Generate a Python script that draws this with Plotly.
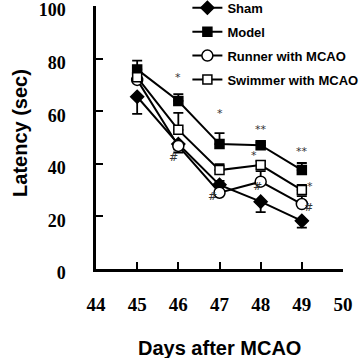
import plotly.graph_objects as go

days = [45, 46, 47, 48, 49]

sham = [65.5, 47.5, 32.0, 25.6, 18.3]
sham_up = [0, 0, 1.5, 0, 0]
sham_dn = [6.5, 2.0, 0, 4.0, 2.6]

model = [75.9, 63.9, 47.5, 47.1, 37.6]
model_up = [3.3, 2.6, 4.2, 1.0, 2.7]
model_dn = [0, 0, 0, 0, 0]

runner = [71.9, 46.8, 29.0, 33.2, 24.7]
runner_up = [0, 0, 0, 4.0, 3.0]
runner_dn = [0, 2.5, 0, 0, 0]

swimmer = [72.9, 52.9, 37.6, 39.5, 30.0]
swimmer_up = [0, 6.5, 2.3, 1.5, 2.0]
swimmer_dn = [0, 0, 0, 0, 0]

# significance marks: (day, value, text)
marks_x = [46, 47, 48, 49, 48, 46.0, 47.0, 48.0, 49.0, 49.0]
marks_y = [73, 59, 53, 44.5, 43, 42.5, 27.5, 31.5, 23.5, 31.5]
marks_t = ["*", "*", "**", "**", "*", "#", "#", "#", "#", "*"]
marks_dx = [0, 0, 0, 0, -7, -5, -7, -3, 7, 8]

series = [
    ("Sham", sham, sham_up, sham_dn, "diamond", "black", 10),
    ("Model", model, model_up, model_dn, "square", "black", 9),
    ("Runner with MCAO", runner, runner_up, runner_dn, "circle", "white", 11),
    ("Swimmer with MCAO", swimmer, swimmer_up, swimmer_dn, "square", "white", 9),
]

fig = go.Figure()
for i, (name, y, up, dn, sym, fill, sz) in enumerate(series):
    fig.add_trace(go.Scatter(
        x=days, y=y, name=name, mode="lines+markers",
        legendgroup=str(i),
        line=dict(color="black", width=2),
        marker=dict(symbol=sym, size=sz, color=fill, line=dict(color="black", width=1.5)),
        error_y=dict(type="data", symmetric=False, array=up, arrayminus=dn,
                     color="black", thickness=1.8, width=5),
    ))

for x, y, t, dx in zip(marks_x, marks_y, marks_t, marks_dx):
    fig.add_annotation(x=x, y=y, text=t, showarrow=False, xshift=dx,
                       font=dict(family="DejaVu Sans", size=11, color="#333333"))

fig.add_annotation(text="Days after MCAO", xref="paper", yref="paper", x=0.502, y=-0.30,
                   showarrow=False, xanchor="center", yanchor="middle",
                   font=dict(family="Liberation Sans", size=20, color="black", weight="bold"))
fig.add_annotation(text="Latency (sec)", xref="paper", yref="paper", x=-0.308, y=0.517,
                   showarrow=False, xanchor="center", yanchor="middle", textangle=-90,
                   font=dict(family="Liberation Sans", size=20, color="black", weight="bold"))

fig.update_layout(
    width=360, height=358,
    margin=dict(l=96, r=17, t=6, b=89, autoexpand=False),
    plot_bgcolor="white", paper_bgcolor="white",
    showlegend=True,
    legend=dict(x=0.37, y=1.05, xanchor="left", yanchor="top",
                font=dict(family="Liberation Sans", size=13, color="black", weight="bold"),
                bgcolor="rgba(0,0,0,0)", tracegroupgap=4, itemwidth=30),
    xaxis=dict(range=[44, 50], dtick=1, tick0=44, showgrid=False, zeroline=False,
               showline=True, linecolor="black", linewidth=2.5,
               ticks="inside", ticklen=7, tickwidth=2, tickcolor="black",
               ticklabelstandoff=16, ticklabeloverflow="allow",
               tickfont=dict(family="Liberation Serif", size=19, color="black", weight="bold")),
    yaxis=dict(range=[0, 100], dtick=20, showgrid=False, zeroline=False,
               showline=True, linecolor="black", linewidth=2.5,
               ticks="inside", ticklen=7, tickwidth=2, tickcolor="black",
               ticklabelstandoff=24, ticklabelshift=4, ticklabeloverflow="allow",
               tickfont=dict(family="Liberation Serif", size=18, color="black", weight="bold")),
)

fig.write_html("out.html", config={"displayModeBar": False},
               post_script="document.body.style.margin='0';document.body.style.padding='0';")
